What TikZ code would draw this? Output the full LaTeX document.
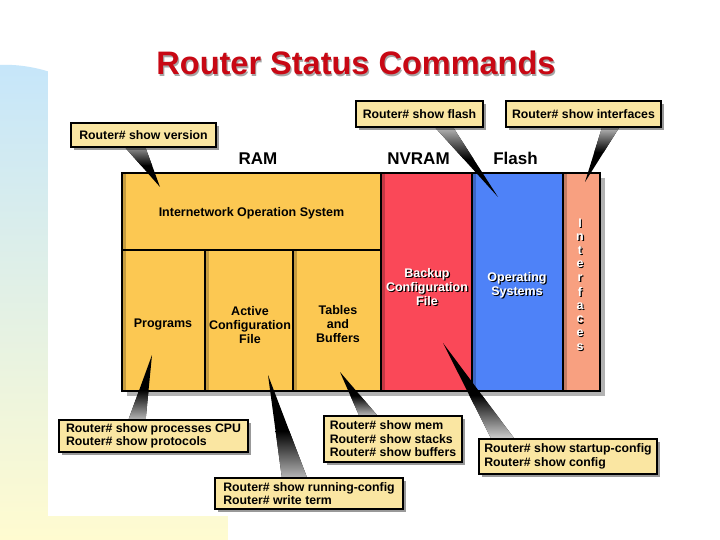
\documentclass[tikz,border=0pt]{standalone}
\usepackage{fontspec}
\setmainfont{Liberation Sans}
\usetikzlibrary{calc,shadows}
\pgfdeclarelayer{mid}
\pgfdeclarelayer{front}
\pgfsetlayers{main,mid,front}
\definecolor{ramc}{RGB}{252,200,82}
\definecolor{nvc}{RGB}{250,72,88}
\definecolor{flc}{RGB}{78,130,248}
\definecolor{ifc}{RGB}{248,160,128}
\definecolor{callc}{RGB}{250,230,162}
\definecolor{titlec}{RGB}{200,8,20}
\definecolor{bgtop}{RGB}{198,230,250}
\definecolor{bgbot}{RGB}{255,251,208}
\newcommand{\cwedge}[4]{%
  \fill[black] #1 -- #2 -- #3 -- cycle;
  \shade[#4] #1 -- #2 -- ($#2!0.45!#3$) -- ($#1!0.45!#3$) -- cycle;
}
\begin{document}
\begin{tikzpicture}[x=1pt,y=-1pt,
  block/.style={draw=black, line width=2.5pt, anchor=north west, inner sep=0pt, outer sep=0pt},
  blab/.style={font=\bfseries\fontsize{12.5}{14}\selectfont, align=center, inner sep=0pt},
  wlab/.style={blab, text=white},
  slab/.style={blab, text=black},
  callout/.style={draw=black, line width=2.5pt, fill=callc, inner xsep=5pt, inner ysep=0pt,
     font=\bfseries\fontsize{12.3}{13.5}\selectfont, align=left,
     drop shadow={shadow xshift=3pt, shadow yshift=-3pt, fill=black, opacity=0.4}},
  memlab/.style={font=\bfseries\fontsize{17}{17}\selectfont, inner sep=0pt, anchor=base},
  iflet/.style={font=\bfseries\fontsize{12.5}{12.5}\selectfont, inner sep=0pt}
]
\useasboundingbox (0,0) rectangle (720,540);
% background
\fill[white] (0,0) rectangle (720,540);
\shade[top color=bgtop, bottom color=bgbot] (0,540) -- (0,65) .. controls (20,64) and (45,68) .. (70,80) -- (228,80) -- (228,540) -- cycle;
\fill[white] (48,0) rectangle (720,516);

% title
\node[font=\bfseries\fontsize{32.5}{32.5}\selectfont, text=black, opacity=0.35, anchor=base, inner sep=0pt] (titleS) at (357.2,76.2) {Router Status Commands};
\node[font=\bfseries\fontsize{32.5}{32.5}\selectfont, text=titlec, anchor=base, inner sep=0pt] (title) at (356,75) {Router Status Commands};

% memory labels
\node[memlab] (ramL) at (258,165) {RAM};
\node[memlab] (nvL) at (418.5,165) {NVRAM};
\node[memlab] (flL) at (515.5,165) {Flash};

% shadow of main frame
\fill[black, opacity=0.3] (127,178) rectangle (605,396);

% blocks
\node[block, fill=ramc, minimum width=259pt, minimum height=77pt] (ios) at (122,173) {};
\node[block, fill=ramc, minimum width=83pt, minimum height=141pt] (prog) at (122,250) {};
\node[block, fill=ramc, minimum width=88pt, minimum height=141pt] (act) at (205,250) {};
\node[block, fill=ramc, minimum width=88pt, minimum height=141pt] (tab) at (293,250) {};
\node[block, fill=nvc, minimum width=91pt, minimum height=218pt] (nv) at (381,173) {};
\node[block, fill=flc, minimum width=91pt, minimum height=218pt] (fl) at (472,173) {};
\node[block, fill=ifc, minimum width=37pt, minimum height=218pt] (intf) at (563,173) {};
% inner left-edge shading
\fill[ramc!78!black] (123.25,174.25) rectangle (126,248.75);
\fill[ramc!78!black] (123.25,251.25) rectangle (126,389.75);
\fill[ramc!78!black] (206.25,251.25) rectangle (209,389.75);
\fill[ramc!78!black] (294.25,251.25) rectangle (297,389.75);
\fill[nvc!78!black] (382.25,174.25) rectangle (385,389.75);
\fill[flc!78!black] (473.25,174.25) rectangle (476,389.75);
\fill[ifc!78!black] (564.25,174.25) rectangle (567,389.75);

% block texts
\node[slab, anchor=base] (iosT) at (251.5,216) {Internetwork Operation System};
\node[slab, anchor=base] (progT) at (163,327) {Programs};
\node[slab] (actT) at (250,325) {Active\\Configuration\\File};
\node[slab] (tabT) at (338,324) {Tables\\and\\Buffers};
\node[blab, text=black] (bkS) at (428.2,288.2) {Backup\\Configuration\\File};
\node[wlab] (bkT) at (427,287) {Backup\\Configuration\\File};
\node[blab, text=black] (osS) at (518.2,286.2) {Operating\\Systems};
\node[wlab] (osT) at (517,285) {Operating\\Systems};
\foreach \c [count=\i] in {I,n,t,e,r,f,a,c,e,s}{
  \node[iflet, text=black] (ifS\i) at (581.2,{224.2+13.8*(\i-1)}) {\c};
  \node[iflet, text=white] (ifL\i) at (580,{223+13.8*(\i-1)}) {\c};
}

% callouts
\begin{pgfonlayer}{front}
\node[callout, minimum width=145pt, minimum height=24pt] (ver) at (143.5,135) {Router\# show version};
\node[callout, minimum width=127pt, minimum height=26pt] (fla) at (419.5,114) {Router\# show flash};
\node[callout, minimum width=155pt, minimum height=26pt] (ifc) at (583.5,114) {Router\# show interfaces};
\node[callout, minimum width=189pt, minimum height=32pt] (cpu) at (153.5,436) {Router\# show processes CPU\\Router\# show protocols};
\node[callout, minimum width=188pt, minimum height=31pt] (run) at (309,493.5) {Router\# show running-config\\Router\# write term};
\node[callout, minimum width=138pt, minimum height=46pt] (mem) at (393,439) {Router\# show mem\\Router\# show stacks\\Router\# show buffers};
\node[callout, minimum width=178pt, minimum height=35pt] (sta) at (568,456.5) {Router\# show startup-config\\Router\# show config};
\end{pgfonlayer}

% pointer coordinates
\coordinate (verTip) at (160,187);
\coordinate (flaTip) at (498,197);
\coordinate (ifcTip) at (585,182);
\coordinate (cpuTip) at (152,355);
\coordinate (runTip) at (268,375);
\coordinate (memTip) at (340,372);
\coordinate (staTip) at (443,343);
\coordinate (verB1) at ($(ver.south west)+(56,0)$);
\coordinate (verB2) at ($(ver.south west)+(76,0)$);
\coordinate (flaB1) at ($(fla.south west)+(81,0)$);
\coordinate (flaB2) at ($(fla.south west)+(99,0)$);
\coordinate (ifcB1) at ($(ifc.south west)+(97,0)$);
\coordinate (ifcB2) at ($(ifc.south west)+(114,0)$);
\coordinate (cpuB1) at ($(cpu.north west)+(71,0)$);
\coordinate (cpuB2) at ($(cpu.north west)+(88,0)$);
\coordinate (runB1) at ($(run.north west)+(68,0)$);
\coordinate (runB2) at ($(run.north west)+(93,0)$);
\coordinate (memB1) at ($(mem.north west)+(36,0)$);
\coordinate (memB2) at ($(mem.north west)+(54,0)$);
\coordinate (staB1) at ($(sta.north west)+(13,0)$);
\coordinate (staB2) at ($(sta.north west)+(36,0)$);

\begin{pgfonlayer}{mid}
\cwedge{(verB1)}{(verB2)}{(verTip)}{top color=black!45, bottom color=black}
\cwedge{(flaB1)}{(flaB2)}{(flaTip)}{top color=black!30, bottom color=black}
\cwedge{(ifcB1)}{(ifcB2)}{(ifcTip)}{top color=black!30, bottom color=black}
\cwedge{(cpuB1)}{(cpuB2)}{(cpuTip)}{bottom color=black!30, top color=black}
\cwedge{(runB1)}{(runB2)}{(runTip)}{bottom color=black!30, top color=black}
\cwedge{(memB1)}{(memB2)}{(memTip)}{bottom color=black!30, top color=black}
\cwedge{(staB1)}{(staB2)}{(staTip)}{bottom color=black!20, top color=black}
\end{pgfonlayer}
\end{tikzpicture}
\end{document}
